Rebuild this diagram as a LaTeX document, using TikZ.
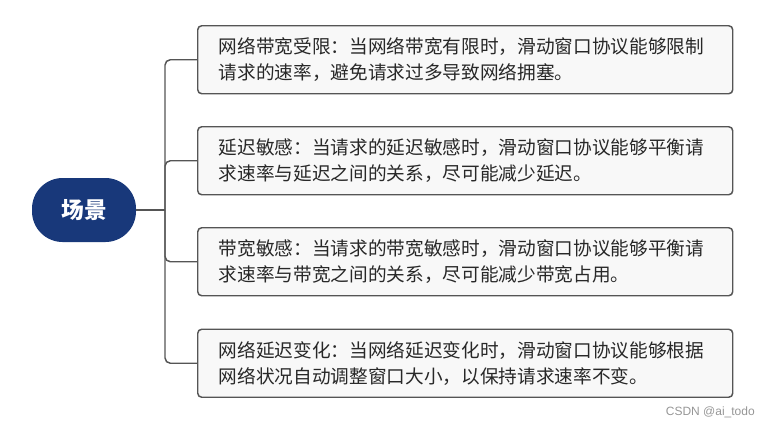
\documentclass[tikz,border=0pt]{standalone}
\usepackage{fontspec}
\setmainfont{Liberation Sans}
\newfontfamily\cjk{Noto Sans CJK SC}
\definecolor{rootblue}{RGB}{24,56,122}
\definecolor{boxfill}{RGB}{248,248,248}
\definecolor{edgegray}{RGB}{85,85,85}
\definecolor{txtgray}{RGB}{40,40,40}
\definecolor{wmgray}{RGB}{150,150,150}
\begin{document}
\begin{tikzpicture}[x=0.75pt,y=-0.75pt,
  rootnode/.style={fill=rootblue, draw=none, rounded corners=23pt, minimum width=78pt, minimum height=48pt, inner sep=0pt,
    text=white, font=\cjk\bfseries\fontsize{17}{20}\selectfont},
  boxnode/.style={draw=edgegray, line width=1.1pt, fill=boxfill, rounded corners=3pt, anchor=north west,
    minimum width=401.25pt, minimum height=51pt, inner xsep=15.75pt, inner ysep=0pt,
    text width=369.75pt, align=left, text=txtgray, font=\cjk\fontsize{14}{19.5}\selectfont},
  link/.style={draw=edgegray, line width=1.1pt, rounded corners=4pt}]
\useasboundingbox (0,0) rectangle (770,426);
\node[rootnode] (root) at (84,210) {场景};
\node[boxnode] (b1) at (197,25) {网络带宽受限：当网络带宽有限时，滑动窗口协议能够限制\\请求的速率，避免请求过多导致网络拥塞。};
\node[boxnode] (b2) at (197,126) {延迟敏感：当请求的延迟敏感时，滑动窗口协议能够平衡请\\求速率与延迟之间的关系，尽可能减少延迟。};
\node[boxnode] (b3) at (197,227) {带宽敏感：当请求的带宽敏感时，滑动窗口协议能够平衡请\\求速率与带宽之间的关系，尽可能减少带宽占用。};
\node[boxnode] (b4) at (197,328.5) {网络延迟变化：当网络延迟变化时，滑动窗口协议能够根据\\网络状况自动调整窗口大小，以保持请求速率不变。};
\coordinate (j) at (165,210);
\draw[link] (root.east) -- (j);
\draw[link] (j) |- (b1.west);
\draw[link] (j) |- (b2.west);
\draw[link] (j) |- (b3.west);
\draw[link] (j) |- (b4.west);
\node[anchor=base east, text=wmgray, font=\fontsize{9}{11}\selectfont, inner sep=0pt] (wm) at (755,415) {CSDN @ai\_todo};
\end{tikzpicture}
\end{document}
